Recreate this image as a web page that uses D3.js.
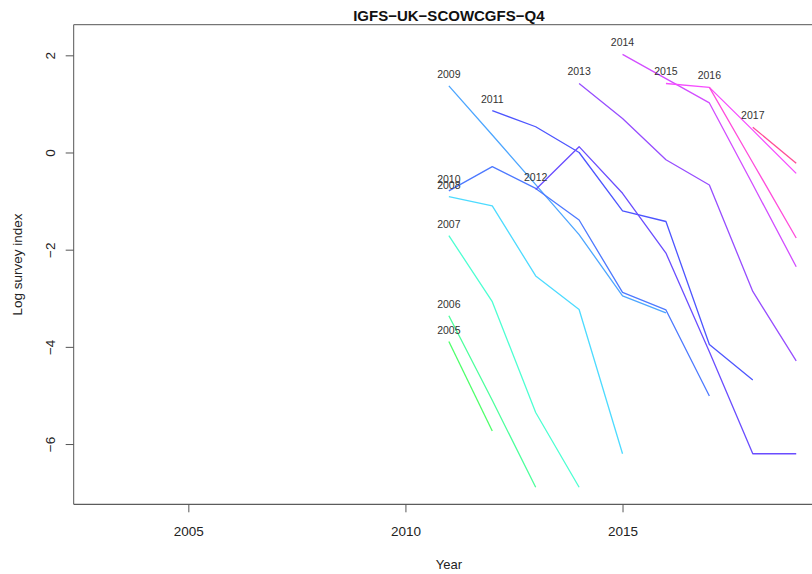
<!DOCTYPE html>
<html>
<head>
<meta charset="utf-8">
<script src="https://cdn.jsdelivr.net/npm/d3@7"></script>
<style>
  html, body { margin: 0; padding: 0; background: #fff; }
  svg { display: block; font-family: "Liberation Sans", Arial, Helvetica, sans-serif; }
</style>
</head>
<body>
<svg id="chart" width="812" height="574"></svg>
<script>
// Survey index by year class (cohort), log scale
const chartTitle = "IGFS-UK-SCOWCGFS-Q4";
const xTicks = [2005, 2010, 2015];
const yTicks = [-6, -4, -2, 0, 2];

const cohorts    = [2005, 2006, 2007, 2008, 2009, 2010, 2011, 2012, 2013, 2014, 2015, 2016, 2017];
const firstYears = [2011, 2011, 2011, 2011, 2011, 2011, 2012, 2013, 2014, 2015, 2016, 2017, 2018];

const idx2005 = [-3.89, -5.73];
const idx2006 = [-3.36, -5.10, -6.89];
const idx2007 = [-1.71, -3.07, -5.35, -6.89];
const idx2008 = [-0.91, -1.10, -2.54, -3.23, -6.20];
const idx2009 = [1.37, 0.36, -0.66, -1.69, -2.95, -3.30];
const idx2010 = [-0.79, -0.29, -0.74, -1.39, -2.88, -3.24, -5.01];
const idx2011 = [0.86, 0.53, 0.00, -1.20, -1.42, -3.95, -4.68];
const idx2012 = [-0.76, 0.12, -0.84, -2.07, -4.10, -6.20, -6.20];
const idx2013 = [1.42, 0.70, -0.15, -0.67, -2.86, -4.29];
const idx2014 = [2.02, 1.52, 1.02, -0.66, -2.35];
const idx2015 = [1.42, 1.34, 0.46, -0.43];
const idx2016 = [1.34, -0.21, -1.76];
const idx2017 = [0.52, -0.22];

const cohortValues = [idx2005, idx2006, idx2007, idx2008, idx2009, idx2010, idx2011,
                      idx2012, idx2013, idx2014, idx2015, idx2016, idx2017];

const cohortColors = ["#4dff6a", "#4dff9d", "#4dffd2", "#4ddbff", "#4da6ff", "#4d79ff", "#4d55ff",
                      "#6a4dff", "#974dff", "#d24dff", "#f64dff", "#ff4ddb", "#ff4d97"];

const svg = d3.select("#chart");

// plotting region (right edge runs past the window)
const plotL = 73.7, plotR = 824, plotT = 24.7, plotB = 504.3;

const x = d3.scaleLinear().domain([2002.36, 2019.64]).range([plotL, plotR]);
const y = d3.scaleLinear().domain([-7.24, 2.63]).range([plotB, plotT]);

// box
svg.append("line").attr("x1", plotL).attr("x2", plotR).attr("y1", plotT).attr("y2", plotT)
  .attr("stroke", "#555").attr("stroke-width", 1);
svg.append("line").attr("x1", plotL).attr("x2", plotL).attr("y1", plotT).attr("y2", plotB)
  .attr("stroke", "#555").attr("stroke-width", 1);
svg.append("line").attr("x1", plotL).attr("x2", plotR).attr("y1", plotB).attr("y2", plotB)
  .attr("stroke", "#333").attr("stroke-width", 1);

// x axis
const gx = svg.append("g")
  .attr("transform", `translate(0,${plotB})`)
  .call(d3.axisBottom(x).tickValues(xTicks).tickFormat(d3.format("d")).tickSize(8).tickSizeOuter(0).tickPadding(14));
gx.select(".domain").remove();
gx.selectAll(".tick line").attr("stroke", "#555");
gx.selectAll(".tick text").attr("fill", "#222").attr("font-size", "13.5px")
  .attr("font-family", "Liberation Sans, Arial, sans-serif");

// y axis with labels turned parallel to the axis
const gy = svg.append("g")
  .attr("transform", `translate(${plotL},0)`)
  .call(d3.axisLeft(y).tickValues(yTicks).tickSize(8).tickSizeOuter(0));
gy.select(".domain").remove();
gy.selectAll(".tick line").attr("stroke", "#555");
gy.selectAll(".tick text")
  .attr("x", null).attr("dy", null)
  .attr("text-anchor", "middle")
  .attr("transform", "translate(-18.2,0) rotate(-90)")
  .attr("fill", "#222").attr("font-size", "13.5px")
  .attr("font-family", "Liberation Sans, Arial, sans-serif");

// titles
svg.append("text")
  .attr("x", (plotL + plotR) / 2).attr("y", 20.5)
  .attr("text-anchor", "middle")
  .attr("font-weight", "bold").attr("font-size", "15px").attr("fill", "#111")
  .text(chartTitle.replace(/-/g, "\u2212"));

svg.append("text")
  .attr("x", (plotL + plotR) / 2).attr("y", 569)
  .attr("text-anchor", "middle")
  .attr("font-size", "13px").attr("fill", "#222")
  .text("Year");

svg.append("text")
  .attr("transform", `translate(22,${(plotT + plotB) / 2}) rotate(-90)`)
  .attr("text-anchor", "middle")
  .attr("font-size", "13.5px").attr("fill", "#222")
  .text("Log survey index");

// cohort lines
const line = d3.line().x(d => x(d.year)).y(d => y(d.value));

const series = cohorts.map((c, i) => ({
  cohort: c,
  color: cohortColors[i],
  points: cohortValues[i].map((v, k) => ({ year: firstYears[i] + k, value: v }))
}));

svg.append("g").selectAll("path")
  .data(series)
  .join("path")
  .attr("d", d => line(d.points))
  .attr("fill", "none")
  .attr("stroke", d => d.color)
  .attr("stroke-width", 1.3)
  .attr("stroke-linejoin", "round");

// cohort labels above the first point of each line
svg.append("g").selectAll("text")
  .data(series)
  .join("text")
  .attr("x", d => x(d.points[0].year))
  .attr("y", d => y(d.points[0].value) - 8)
  .attr("text-anchor", "middle")
  .attr("font-size", "10.5px")
  .attr("fill", "#333")
  .text(d => d.cohort);
</script>
</body>
</html>
